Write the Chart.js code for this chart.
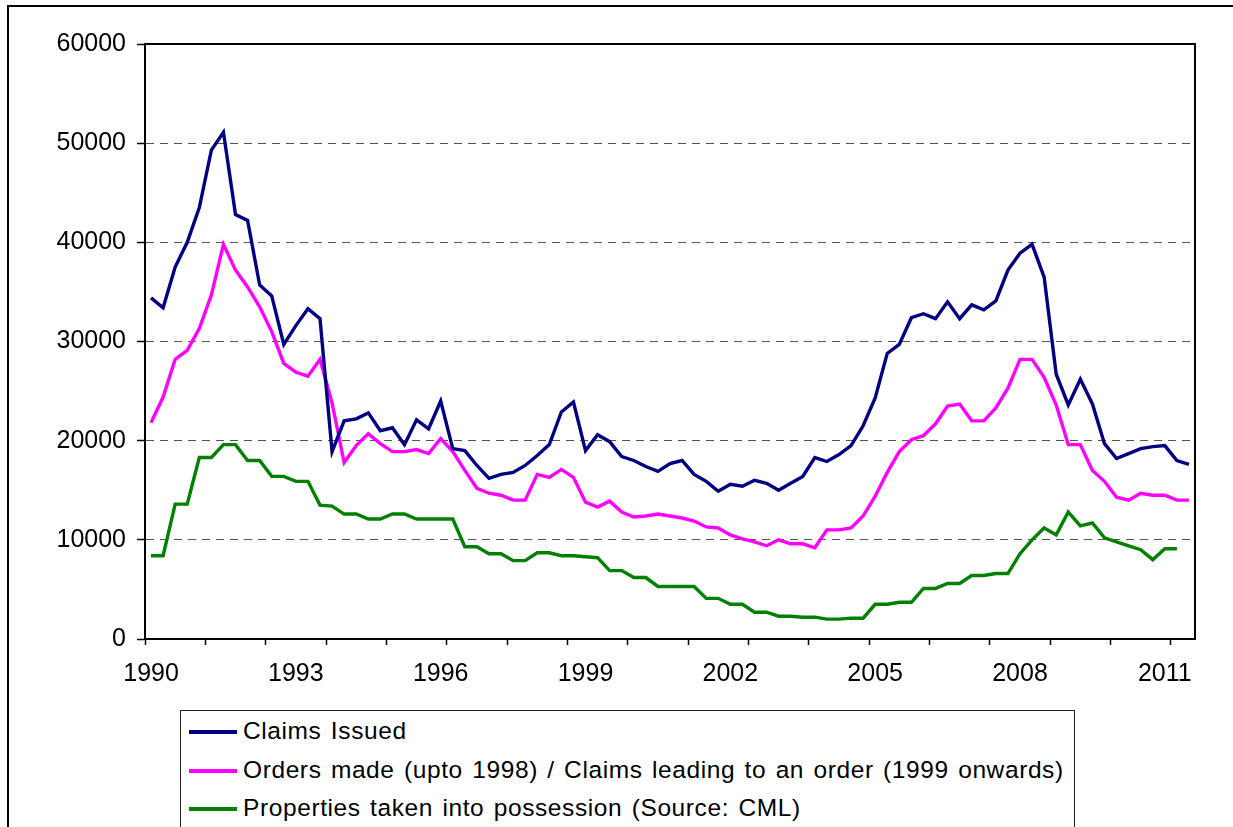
<!DOCTYPE html>
<html>
<head>
<meta charset="utf-8">
<script src="https://cdn.jsdelivr.net/npm/chart.js@4.4.1/dist/chart.umd.min.js"></script>
<style>
  html, body { margin: 0; padding: 0; background: #fff; overflow: hidden; width: 1233px; height: 827px; }
  #frame { position: absolute; left: 7px; top: 5px; width: 1300px; height: 900px; border: 2px solid #000; box-sizing: border-box; }
  #wrap { position: absolute; left: 0; top: 0; width: 1233px; height: 827px; }
  #legend { position: absolute; left: 180px; top: 710px; width: 895px; height: 140px; border: 1px solid #222; background: #fff; box-sizing: border-box;
            font-family: "Liberation Sans", Arial, sans-serif; font-size: 24.5px; letter-spacing: 0.6px; word-spacing: 2px; color: #000; }
  .row { position: absolute; left: 0; height: 30px; line-height: 30px; white-space: nowrap; }
  .sw { position: absolute; left: 8px; top: 13px; width: 48px; height: 4px; }
  .tx { position: absolute; left: 62px; top: -1px; }
</style>
</head>
<body>
<div id="frame"></div>
<div id="wrap"><canvas id="c" width="1233" height="827"></canvas></div>
<div id="legend"></div>
<script>
// ---- data (quarterly, 1990 Q1 .. 2011 Q3) ----
const years = [1990,1991,1992,1993,1994,1995,1996,1997,1998,1999,2000,2001,2002,2003,2004,2005,2006,2007,2008,2009,2010,2011];
const quarters = ['Q1','Q2','Q3','Q4'];
const categories = [];
years.forEach(y => quarters.forEach(q => { if (!(y === 2011 && q === 'Q4')) categories.push(y + ' ' + q); }));

const tickLabels = ['1990','1993','1996','1999','2002','2005','2008','2011'];

const seriesNames = [
  'Claims Issued',
  'Orders made (upto 1998) / Claims leading to an order (1999 onwards)',
  'Properties taken into possession (Source: CML)'
];

const claimsIssued = [
  34400,33400,37500,40000, 43500,49300,51100,42800, 42200,35700,34600,29700,
  31600,33300,32300,18900, 22000,22200,22800,21000, 21300,19600,22100,21200,
  24000,19200,19000,17500, 16200,16600,16800,17500, 18500,19600,22900,23900,
  19000,20600,19900,18400, 18000,17400,16900,17700, 18000,16600,15900,14900,
  15600,15400,16000,15700, 15000,15700,16400,18300, 17900,18600,19500,21500,
  24300,28800,29700,32400, 32800,32300,34000,32300, 33700,33200,34100,37200,
  38900,39800,36500,26700, 23600,26200,23700,19700, 18200,18700,19200,19400,
  19500,18000,17600
];

const ordersMade = [
  21800,24400,28200,29100, 31300,34700,39800,37200, 35500,33500,31000,27800,
  26900,26500,28200,23800, 17800,19500,20700,19700, 18900,18900,19100,18700,
  20200,18900,17000,15200, 14700,14500,14000,14000, 16600,16300,17100,16300,
  13800,13300,13900,12800, 12300,12400,12600,12400, 12200,11900,11300,11200,
  10500,10100,9800,9400,   10000,9600,9600,9200,   11000,11000,11200,12400,
  14400,16800,18900,20100, 20500,21700,23500,23700, 22000,22000,23300,25300,
  28200,28200,26400,23600, 19600,19600,17000,15900, 14300,14000,14700,14500,
  14500,14000,14000
];

const possessions = [
  8400,8400,13600,13600,   18300,18300,19600,19600, 18000,18000,16400,16400,
  15900,15900,13500,13400, 12600,12600,12100,12100, 12600,12600,12100,12100,
  12100,12100,9300,9300,   8600,8600,7900,7900,     8700,8700,8400,8400,
  8300,8200,6900,6900,     6200,6200,5300,5300,     5300,5300,4100,4100,
  3500,3500,2700,2700,     2300,2300,2200,2200,     2000,2000,2100,2100,
  3500,3500,3700,3700,     5100,5100,5600,5600,     6400,6400,6600,6600,
  8600,10000,11200,10500,  12800,11400,11700,10200, 9800,9400,9000,8000,
  9100,9100,null
];

const yTicks = [0,10000,20000,30000,40000,50000,60000];
const colors = ['#000080', '#FF00FF', '#008000'];

// ---- legend (HTML) ----
const legendEl = document.getElementById('legend');
seriesNames.forEach((name, i) => {
  const row = document.createElement('div');
  row.className = 'row';
  row.style.top = (6 + i * 38.5) + 'px';
  row.innerHTML = '<div class="sw" style="background:' + colors[i] + '"></div><div class="tx"></div>';
  row.querySelector('.tx').textContent = name;
  legendEl.appendChild(row);
});

// ---- chart ----
const FONT = { family: '"Liberation Sans", Arial, sans-serif', size: 25 };

const plotBorder = {
  id: 'plotBorder',
  afterDraw(chart) {
    const a = chart.chartArea, ctx = chart.ctx;
    ctx.save();
    ctx.strokeStyle = '#000';
    ctx.lineWidth = 2;
    ctx.strokeRect(a.left, a.top, a.right - a.left, a.bottom - a.top);
    ctx.restore();
  }
};

new Chart(document.getElementById('c'), {
  type: 'line',
  data: {
    labels: categories,
    datasets: [
      { label: seriesNames[0], data: claimsIssued, borderColor: colors[0] },
      { label: seriesNames[1], data: ordersMade,  borderColor: colors[1] },
      { label: seriesNames[2], data: possessions, borderColor: colors[2] }
    ].map(d => Object.assign(d, { borderWidth: 3.4, pointRadius: 0, fill: false, tension: 0, spanGaps: false, borderJoinStyle: 'miter' }))
  },
  options: {
    responsive: false,
    animation: false,
    devicePixelRatio: 1,
    layout: { padding: { left: 0, top: 44, right: 38, bottom: 0 } },
    plugins: { legend: { display: false }, tooltip: { enabled: false } },
    scales: {
      x: {
        type: 'category',
        offset: true,
        afterFit(scale) { scale.height = 188; },
        grid: {
          display: true,
          offset: true,
          drawOnChartArea: false,
          drawTicks: true,
          tickLength: 6,
          tickWidth: 1.5,
          tickColor: (ctx) => (ctx.index !== undefined && ctx.index % 5 === 0) ? '#000' : 'rgba(0,0,0,0)'
        },
        border: { display: true, color: '#000', width: 2 },
        ticks: {
          autoSkip: false,
          maxRotation: 0,
          minRotation: 0,
          padding: 14,
          color: '#000',
          font: FONT,
          callback: function (value, index) {
            const lab = categories[index];
            const yr = lab.slice(0, 4);
            return (lab.endsWith('Q1') && tickLabels.includes(yr)) ? yr : '';
          }
        }
      },
      y: {
        min: yTicks[0],
        max: yTicks[yTicks.length - 1],
        afterFit(scale) { scale.width = 145; },
        afterBuildTicks(scale) { scale.ticks = yTicks.map(v => ({ value: v })); },
        grid: {
          color: (ctx) => (ctx.tick && (ctx.tick.value === 0 || ctx.tick.value === 60000)) ? 'rgba(0,0,0,0)' : '#555',
          lineWidth: 1,
          drawTicks: true,
          tickLength: 8,
          tickColor: '#000',
          tickWidth: 1.5
        },
        border: { display: true, color: '#000', width: 2, dash: [8, 6] },
        ticks: {
          padding: 11,
          color: '#000',
          font: FONT,
          callback: (v) => String(v)
        }
      }
    }
  },
  plugins: [plotBorder]
});
</script>
</body>
</html>
